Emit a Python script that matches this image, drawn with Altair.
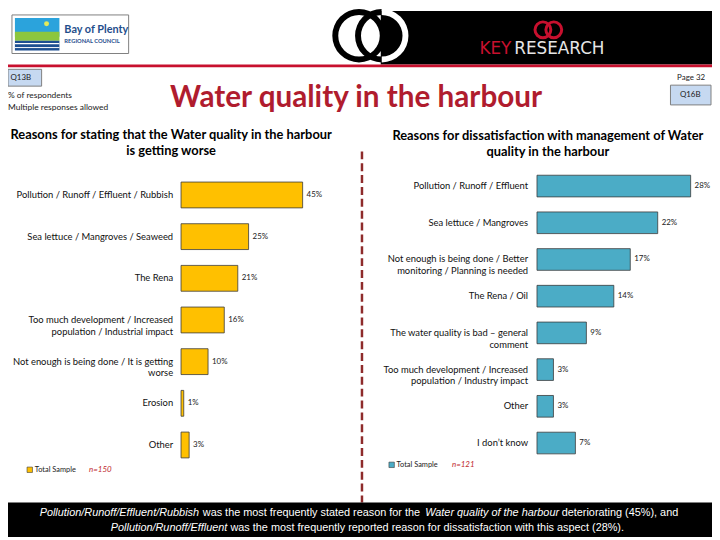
import math
import altair as alt
import pandas as pd

# ---------------- data ----------------
left_categories = [
    "Pollution / Runoff / Effluent / Rubbish",
    "Sea lettuce / Mangroves / Seaweed",
    "The Rena",
    "Too much development / Increased\npopulation / Industrial impact",
    "Not enough is being done / It is getting\nworse",
    "Erosion",
    "Other",
]
left_values = [45, 25, 21, 16, 10, 1, 3]

right_categories = [
    "Pollution / Runoff / Effluent",
    "Sea lettuce / Mangroves",
    "Not enough is being done / Better\nmonitoring / Planning is needed",
    "The Rena / Oil",
    "The water quality is bad \u2013 general\ncomment",
    "Too much development / Increased\npopulation / Industry impact",
    "Other",
    "I don\u2019t know",
]
right_values = [28, 22, 17, 14, 9, 3, 3, 7]

left_n = "n=150"
right_n = "n=121"

FONT = "Lato"
GOLD = "#FFC000"
TEAL = "#4BACC6"
DARKRED = "#B01C2E"
NB = "\u00a0"
SUMFONT = "Liberation Sans Narrow, Liberation Sans"

one = pd.DataFrame({"k": [0]})


def txt(s, x, y, size=9, color="#000000", weight="normal", style="normal",
        align="left", baseline="middle", font=FONT):
    return alt.Chart(one).mark_text(
        text=s, fontSize=size, color=color, fontWeight=weight, fontStyle=style,
        align=align, baseline=baseline, font=font
    ).encode(x=alt.value(x), y=alt.value(y))


def rect(x, y, x2, y2, fill, stroke=None, sw=1.0):
    kw = dict(color=fill)
    if stroke is not None:
        kw.update(stroke=stroke, strokeWidth=sw)
    return alt.Chart(one).mark_rect(**kw).encode(
        x=alt.value(x), x2=alt.value(x2), y=alt.value(y), y2=alt.value(y2))


def arc(cx, cy, r, r2, t0, t1, color):
    return alt.Chart(one).mark_arc(
        radius=r, radius2=r2, theta=t0, theta2=t1, color=color
    ).encode(x=alt.value(cx), y=alt.value(cy))


def hline(x, x2, y, color, sw=1.0, dash=None):
    kw = dict(color=color, strokeWidth=sw)
    if dash:
        kw["strokeDash"] = dash
    return alt.Chart(one).mark_rule(**kw).encode(
        x=alt.value(x), x2=alt.value(x2), y=alt.value(y))


def vline(x, y, y2, color, sw=1.0, dash=None):
    kw = dict(color=color, strokeWidth=sw)
    if dash:
        kw["strokeDash"] = dash
    return alt.Chart(one).mark_rule(**kw).encode(
        x=alt.value(x), y=alt.value(y), y2=alt.value(y2))


# ---------------- bar panels ----------------
def panel(cats, vals, color, xdomain, xrange, yrange, pin, label_x):
    df = pd.DataFrame({"cat": cats, "v": vals})
    xs = alt.Scale(domain=xdomain, range=xrange, zero=True, nice=False)
    ys = alt.Scale(domain=cats, range=yrange, paddingInner=pin, paddingOuter=pin / 2)
    base = alt.Chart(df)
    bars = base.mark_bar(color=color, stroke="#3a3a3a", strokeWidth=0.8).encode(
        x=alt.X("v:Q", scale=xs, axis=None),
        y=alt.Y("cat:N", scale=ys, axis=None, sort=cats),
    )
    pct = base.transform_calculate(lab="datum.v + '%'").mark_text(
        align="left", baseline="middle", dx=4, fontSize=8, font=FONT, color="#222222"
    ).encode(
        x=alt.X("v:Q", scale=xs, axis=None),
        y=alt.Y("cat:N", scale=ys, axis=None, sort=cats),
        text="lab:N",
    )
    labels = base.mark_text(
        align="right", baseline="middle", fontSize=9.5, font=FONT, color="#111111",
        lineBreak="\n", lineHeight=12
    ).encode(
        x=alt.value(label_x),
        y=alt.Y("cat:N", scale=ys, axis=None, sort=cats),
        text="cat:N",
    )
    return alt.layer(bars, pct, labels)


left_panel = panel(left_categories, left_values, GOLD, [0, 50],
                   [175, 175 + 50 * 2.733], [165, 460], 0.38, 167)
right_panel = panel(right_categories, right_values, TEAL, [0, 30],
                    [535, 535 + 30 * 5.55], [158.5, 455.5], 0.41, 526)

# ---------------- decorations ----------------
deco = [
    # header band and rings
    rect(377, 0, 712, 54, "#000000"),
    hline(0, 712, 55.5, "#C8102E", sw=3),
    arc(355, 25, 27, 21, 0, 2 * math.pi, "#000000"),
    arc(378, 25, 27, 21, math.pi, 2 * math.pi, "#000000"),
    arc(378, 25, 27, 21, 0, math.pi, "#FFFFFF"),
    # KeyResearch logo
    arc(541, 19, 9.5, 6.5, 0, 2 * math.pi, "#C8102E"),
    arc(552, 19, 9.5, 6.5, 0, 2 * math.pi, "#C8102E"),
    txt("KEY", 509, 39, size=17, color="#C8102E", align="right", font="DejaVu Sans"),
    txt("RESEARCH", 512, 39, size=17, color="#E6E6E6", align="left", font="DejaVu Sans"),
    # Bay of Plenty logo
    rect(4, 4, 122, 43, "#FFFFFF", stroke="#7F7F7F", sw=1),
    rect(7, 7, 52, 26, "#2BA3DC"),
    rect(7, 21, 52, 30, "#8CC63E"),
    rect(7, 30, 52, 40, "#1D4F91"),
    hline(7, 52, 33, "#FFFFFF", sw=1.2),
    hline(7, 52, 37, "#FFFFFF", sw=1.0),
    alt.Chart(one).mark_point(shape="circle", filled=True, size=25, color="#E3EA5A",
                              opacity=1).encode(x=alt.value(39), y=alt.value(13)),
    txt("Bay of Plenty", 57, 19, size=11, color="#1F4E8C", weight="bold"),
    txt("REGIONAL COUNCIL", 57, 30, size=5.8, color="#1F4E8C", weight="bold"),
    # question boxes and notes
    rect(0, 59, 34, 76, "#C6D9F1", stroke="#7F7F7F", sw=1),
    txt("Q13B", 13, 68, size=8, color="#222222", align="center"),
    txt("% of respondents", 0, 85, size=8.5, color="#222222"),
    txt("Multiple responses allowed", 0, 97, size=8.5, color="#222222"),
    txt("Page 32", 705, 68, size=8, color="#222222", align="right"),
    rect(670, 75, 711, 95, "#C6D9F1", stroke="#7F7F7F", sw=1),
    txt("Q16B", 690, 85, size=8, color="#222222", align="center"),
    # title and subtitles
    txt("Water quality in the harbour", 352, 97, size=30, color=DARKRED, weight="bold",
        align="center", baseline="alphabetic"),
    txt("Reasons for stating that the Water quality in the harbour", 165, 125,
        size=13, weight="bold", align="center"),
    txt("is getting worse", 165, 142, size=13, weight="bold", align="center"),
    txt("Reasons for dissatisfaction with management of Water", 546, 126,
        size=13, weight="bold", align="center"),
    txt("quality in the harbour", 546, 143, size=13, weight="bold", align="center"),
    # divider
    vline(358, 142, 497, "#8E2B2B", sw=2.5, dash=[8, 4]),
    # legends
    alt.Chart(one).mark_point(shape="square", filled=True, size=30, color=GOLD,
                              stroke="#3a3a3a", strokeWidth=0.6, opacity=1
                              ).encode(x=alt.value(22), y=alt.value(464)),
    txt("Total Sample", 27, 464, size=7.5, color="#222222"),
    txt(left_n, 82, 464, size=8, color="#C0282D", style="italic"),
    alt.Chart(one).mark_point(shape="square", filled=True, size=30, color=TEAL,
                              stroke="#3a3a3a", strokeWidth=0.6, opacity=1
                              ).encode(x=alt.value(388), y=alt.value(459)),
    txt("Total Sample", 393, 459, size=7.5, color="#222222"),
    txt(right_n, 449, 459, size=8, color="#C0282D", style="italic"),
    # bottom summary band
    rect(0, 497, 712, 532, "#000000"),
    txt("Pollution/Runoff/Effluent/Rubbish", 32, 508, size=11, color="#FFFFFF",
        style="italic", font=SUMFONT),
    txt(NB + "was the most frequently stated reason for the", 197, 508, size=11,
        color="#FFFFFF", font=SUMFONT),
    txt("Water quality of the harbour", 422, 508, size=11, color="#FFFFFF",
        style="italic", font=SUMFONT),
    txt("deteriorating (45%), and", 560, 508, size=11, color="#FFFFFF",
        font=SUMFONT),
    txt("Pollution/Runoff/Effluent", 104, 523, size=11, color="#FFFFFF",
        style="italic", font=SUMFONT),
    txt(NB + "was the most frequently reported reason for dissatisfaction with this aspect (28%).",
        225, 523, size=11, color="#FFFFFF", font=SUMFONT),
]

chart = alt.layer(*deco, left_panel, right_panel).resolve_scale(
    x="independent", y="independent"
).properties(
    width=712, height=532,
    autosize=alt.AutoSizeParams(type="none"),
    padding=0,
).configure_view(stroke=None)

chart.save("out.html", embed_options={"renderer": "svg", "actions": False})
